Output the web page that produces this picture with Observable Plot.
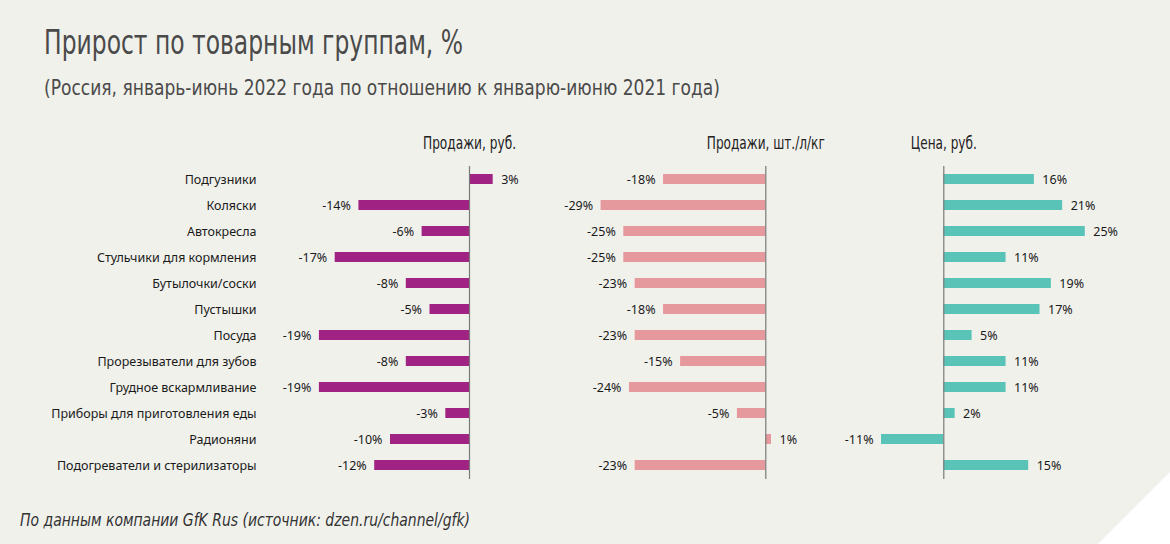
<!DOCTYPE html>
<html>
<head>
<meta charset="utf-8">
<script src="https://cdn.jsdelivr.net/npm/d3@7"></script>
<script src="https://cdn.jsdelivr.net/npm/@observablehq/plot@0.6"></script>
<style>
  html, body { margin: 0; padding: 0; }
  body { width: 1170px; height: 544px; background: #f1f1ec; overflow: hidden; position: relative; }
  #wrap { position: absolute; left: 0; top: 0; width: 1170px; height: 544px; }
  .narrow { font-family: "DejaVu Sans", "Roboto", sans-serif; font-stretch: condensed; }
  #title { position: absolute; left: 44px; top: 26px; font-size: 33px; color: #4a4a4a; line-height: 1; white-space: nowrap; }
  #subtitle { position: absolute; left: 44px; top: 77px; font-size: 22px; color: #4a4a4a; line-height: 1; white-space: nowrap; }
  #caption { position: absolute; left: 20px; top: 512px; font-size: 17px; font-style: italic; color: #333; line-height: 1; white-space: nowrap; }
  .panel { position: absolute; top: 120px; }
  #corner { position: absolute; left: 0; top: 0; width: 1170px; height: 544px; background: #ffffff;
            clip-path: polygon(1170px 472px, 1170px 544px, 1098px 544px); }
</style>
</head>
<body>
<div id="wrap">
  <div id="corner"></div>
  <div id="title" class="narrow">Прирост по товарным группам, %</div>
  <div id="subtitle" class="narrow">(Россия, январь-июнь 2022 года по отношению к январю-июню 2021 года)</div>
  <div id="p1" class="panel" style="left:0px"></div>
  <div id="p2" class="panel" style="left:540px"></div>
  <div id="p3" class="panel" style="left:840px"></div>
  <div id="caption" class="narrow">По данным компании GfK Rus (источник: dzen.ru/channel/gfk)</div>
</div>
<script>
const categories = [
  "Подгузники",
  "Коляски",
  "Автокресла",
  "Стульчики для кормления",
  "Бутылочки/соски",
  "Пустышки",
  "Посуда",
  "Прорезыватели для зубов",
  "Грудное вскармливание",
  "Приборы для приготовления еды",
  "Радионяни",
  "Подогреватели и стерилизаторы"
];
const salesRub   = [3, -14, -6, -17, -8, -5, -19, -8, -19, -3, -10, -12];
const salesUnits = [-18, -29, -25, -25, -23, -18, -23, -15, -24, -5, 1, -23];
const price      = [16, 21, 25, 11, 19, 17, 5, 11, 11, 2, -11, 15];
const panelTitles = ["Продажи, руб.", "Продажи, шт./л/кг", "Цена, руб."];
const panelTitleWidths = [93, 118, 66];
const colors = ["#a02383", "#e6999c", "#59c3b7"];

const labelFont = "'Noto Sans', 'Open Sans', sans-serif";
const narrowFont = "'DejaVu Sans', Roboto, sans-serif";
const fmt = v => (v < 0 ? "-" + Math.abs(v) : String(v)) + "%";

function panel({values, title, color, width, domain, range, marginLeft, showY}) {
  const data = categories.map((c, i) => ({cat: c, v: values[i]}));
  const neg = data.filter(d => d.v < 0);
  const pos = data.filter(d => d.v >= 0);
  const marks = [
    Plot.barX(data, {x1: 0, x2: "v", y: "cat", fill: color}),
    Plot.ruleX([0], {stroke: "#7a7a7a", strokeWidth: 1.2}),
    Plot.text(neg, {x: "v", y: "cat", text: d => fmt(d.v), textAnchor: "end", dx: -8,
      fill: "#1a1a1a", fontSize: 12.5}),
    Plot.text(pos, {x: "v", y: "cat", text: d => fmt(d.v), textAnchor: "start", dx: 8,
      fill: "#1a1a1a", fontSize: 12.5}),
    Plot.text([title], {x: 0, frameAnchor: "top", lineAnchor: "middle", dy: -23, text: d => d,
      fontSize: 17, fill: "#222", fontFamily: narrowFont, className: "ptitle"})
  ];
  if (showY) marks.push(Plot.axisY({tickSize: 0, tickPadding: 6, fontSize: 12.5, fill: "#1a1a1a", label: null}));
  return Plot.plot({
    width, height: 370,
    marginTop: 46, marginBottom: 11, marginLeft, marginRight: 0,
    style: {background: "transparent", fontFamily: labelFont, overflow: "visible"},
    x: {domain, range, axis: null},
    y: {domain: categories, paddingInner: 0.6, paddingOuter: 0.3, axis: null},
    marks
  });
}

const p1 = panel({values: salesRub, title: panelTitles[0], color: colors[0], width: 540,
  domain: [-20, 4], range: [469 - 20 * 7.9, 469 + 4 * 7.9], marginLeft: 262, showY: true});
const p2 = panel({values: salesUnits, title: panelTitles[1], color: colors[1], width: 300,
  domain: [-30, 2], range: [225.3 - 30 * 5.68, 225.3 + 2 * 5.68], marginLeft: 40, showY: false});
const p3 = panel({values: price, title: panelTitles[2], color: colors[2], width: 330,
  domain: [-12, 26], range: [103.3 - 12 * 5.66, 103.3 + 26 * 5.66], marginLeft: 20, showY: false});

document.getElementById("p1").appendChild(p1);
document.getElementById("p2").appendChild(p2);
document.getElementById("p3").appendChild(p3);

// condense the narrow-style panel titles to the reference widths
[p1, p2, p3].forEach((svg, i) => {
  svg.querySelectorAll(".ptitle text").forEach(t => {
    t.setAttribute("font-stretch", "condensed");
    t.setAttribute("textLength", panelTitleWidths[i]);
    t.setAttribute("lengthAdjust", "spacingAndGlyphs");
  });
});

// condense HTML titles to the reference widths
function fit(id, w) {
  const el = document.getElementById(id);
  const r = el.getBoundingClientRect().width;
  el.style.transformOrigin = "0 0";
  el.style.transform = `scaleX(${w / r})`;
}
fit("title", 419);
fit("subtitle", 676);
fit("caption", 450);
</script>
</body>
</html>
